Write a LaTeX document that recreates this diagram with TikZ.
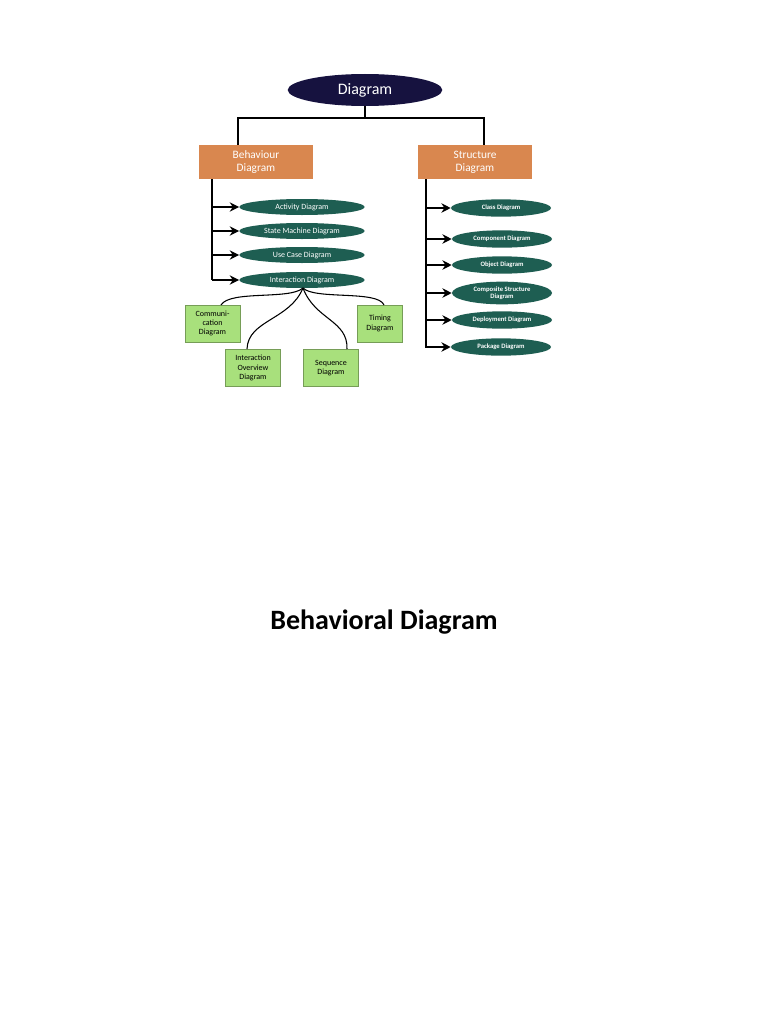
\documentclass[tikz,border=0pt]{standalone}
\usepackage{fontspec}
\setmainfont{Carlito}
\usetikzlibrary{shapes.geometric,arrows.meta}
\definecolor{navy}{HTML}{16123F}
\definecolor{orng}{HTML}{D9874F}
\definecolor{teal}{HTML}{1E5E52}
\definecolor{grn}{HTML}{A8E07C}
\begin{document}
\begin{tikzpicture}[x=0.75pt,y=-0.75pt,
  top/.style={ellipse,fill=navy,text=white,minimum width=116pt,minimum height=24pt,inner sep=0pt,font=\fontsize{12}{12}\selectfont},
  cat/.style={fill=orng,text=white,minimum width=86pt,minimum height=25pt,inner sep=0pt,align=center,font=\fontsize{8.5}{9.5}\selectfont},
  lell/.style={ellipse,fill=teal,text=white,minimum width=94pt,minimum height=12pt,inner sep=0pt,font=\fontsize{6}{6}\selectfont},
  rell/.style={ellipse,fill=teal,text=white,minimum width=75pt,minimum height=13pt,inner sep=0pt,align=center,font=\fontsize{5}{5.5}\selectfont\bfseries},
  gbox/.style={fill=grn,draw=grn!70!black,line width=0.3pt,minimum width=41pt,minimum height=28pt,inner sep=0pt,align=center,font=\fontsize{6}{7}\selectfont},
  conn/.style={line width=1pt,black},
  arr/.style={line width=1pt,-{Stealth[length=7pt,width=7pt]}}]
\useasboundingbox (0,0) rectangle (768,1024);
\node[top] (d) at (365,90) {Diagram};
\node[cat] (b) at (256,162) {Behaviour\\Diagram};
\node[cat] (s) at (475,162) {Structure\\Diagram};
\coordinate (j) at (365,118);
\draw[conn] (d.south) -- (j) -- (238,118) -- (238,145);
\draw[conn] (j) -- (484,118) -- (484,145);
% left
\node[lell] (l1) at (302,207) {Activity Diagram};
\node[lell] (l2) at (302,231) {State Machine Diagram};
\node[lell] (l3) at (302,255) {Use Case Diagram};
\node[lell] (l4) at (302,280) {Interaction Diagram};
\draw[conn] (212,179) -- (212,280);
\foreach \n/\y in {l1/207,l2/231,l3/255,l4/280}{\draw[arr] (212,\y) -- (\n.west);}
% right
\node[rell] (r1) at (501,208) {Class Diagram};
\node[rell] (r2) at (502,239) {Component Diagram};
\node[rell] (r3) at (502,265) {Object Diagram};
\node[rell,minimum height=17pt] (r4) at (502,293) {Composite Structure\\Diagram};
\node[rell] (r5) at (502,320) {Deployment Diagram};
\node[rell] (r6) at (501,347) {Package Diagram};
\draw[conn] (426,179) -- (426,348);
\foreach \n/\y in {r1/208,r2/239,r3/265,r4/293,r5/320,r6/347}{\draw[arr] (426,\y) -- (\n.west);}
% green
\node[gbox] (g1) at (212.5,323.5) {Communi-\\cation\\Diagram};
\node[gbox] (g2) at (253,368) {Interaction\\Overview\\Diagram};
\node[gbox] (g3) at (331,368) {Sequence\\Diagram};
\node[gbox,minimum width=34pt] (g4) at (380,323.5) {Timing\\Diagram};
\coordinate (o) at (303,288);
\draw[line width=0.8pt] (o) .. controls (290,300) and (230,290) .. (221,305);
\draw[line width=0.8pt] (o) .. controls (290,320) and (248,320) .. (247,349);
\draw[line width=0.8pt] (o) .. controls (315,320) and (348,320) .. (347,349);
\draw[line width=0.8pt] (o) .. controls (315,300) and (378,290) .. (384,305);
\node[font=\fontsize{21}{21}\selectfont\bfseries] (t) at (384,622) {Behavioral Diagram};
\end{tikzpicture}
\end{document}
